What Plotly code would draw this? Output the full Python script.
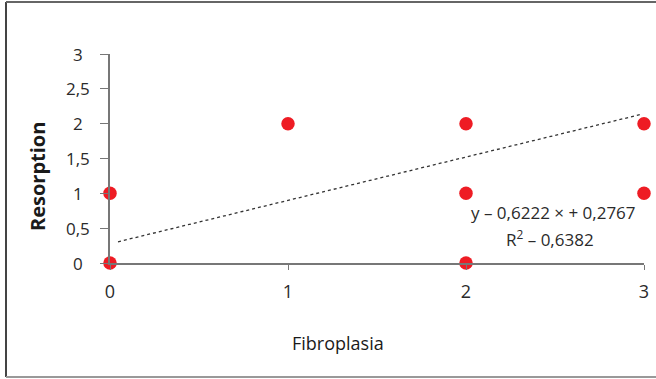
import plotly.graph_objects as go

fibroplasia = [0, 0, 1, 2, 2, 2, 3, 3]
resorption = [0, 1, 2, 2, 1, 0, 2, 1]
slope = 0.6222
intercept = 0.2767
r2 = 0.6382
trend_x = [0.045, 2.98]
trend_y = [slope * v + intercept for v in trend_x]
x_ticks = [0, 1, 2, 3]
y_ticks = [0, 0.5, 1, 1.5, 2, 2.5, 3]
y_ticktext = ["0", "0,5", "1", "1,5", "2", "2,5", "3"]

FONT = "Open Sans"
W, H = 656, 379
L, R, T, B = 110, 12, 54, 116
pw, ph = W - L - R, H - T - B

def px(x):
    return (x - L) / pw

def py(y):
    return (H - B - y) / ph

fig = go.Figure()
fig.add_trace(go.Scatter(x=trend_x, y=trend_y, mode="lines",
                         line=dict(color="#333333", width=1.3, dash="dot"),
                         hoverinfo="skip", showlegend=False))
fig.add_trace(go.Scatter(x=fibroplasia, y=resorption, mode="markers",
                         marker=dict(color="#ee1c24", size=13.5),
                         cliponaxis=False, showlegend=False))

annotations = [
    dict(text=t, xref="paper", yref="y", x=px(78), y=v, showarrow=False,
         font=dict(size=17, color="#2a2a2a"), xanchor="center", yanchor="middle")
    for v, t in zip(y_ticks, y_ticktext)
]
annotations += [
    dict(text="y – 0,6222 × + 0,2767", xref="paper", yref="paper",
         x=px(553), y=py(212), showarrow=False,
         font=dict(size=17, color="#2a2a2a"), xanchor="center", yanchor="middle"),
    dict(text="R<sup>2</sup> – 0,6382", xref="paper", yref="paper",
         x=px(550), y=py(238), showarrow=False,
         font=dict(size=17, color="#2a2a2a"), xanchor="center", yanchor="middle"),
    dict(text="Fibroplasia", xref="paper", yref="paper",
         x=px(338), y=py(343), showarrow=False,
         font=dict(size=18, color="#1a1a1a"), xanchor="center", yanchor="middle"),
    dict(text="<b>Resorption</b>", xref="paper", yref="paper",
         x=px(37), y=py(177), showarrow=False, textangle=-90,
         font=dict(size=20, color="#1a1a1a"), xanchor="center", yanchor="middle"),
]

fig.update_layout(
    template="none",
    width=W, height=H,
    margin=dict(l=L, r=R, t=T, b=B, autoexpand=False),
    paper_bgcolor="white", plot_bgcolor="white",
    font=dict(family=FONT, size=15, color="#2a2a2a"),
    xaxis=dict(range=[0, 3], tickvals=x_ticks, showgrid=False, zeroline=False,
               automargin=False,
               showline=True, linecolor="#777777", linewidth=1.5,
               ticks="outside", ticklen=5, tickcolor="#777777",
               ticklabelstandoff=7, tickfont=dict(size=18, color="#2a2a2a")),
    yaxis=dict(range=[0, 3], tickvals=y_ticks, showticklabels=False,
               showgrid=False, zeroline=False, automargin=False,
               showline=True, linecolor="#777777", linewidth=1.5,
               ticks="outside", ticklen=8, tickcolor="#777777"),
    annotations=annotations,
    shapes=[
        dict(type="line", xref="paper", yref="paper", x0=px(6), x1=px(6),
             y0=py(2), y1=py(377), line=dict(color="#444444", width=2)),
        dict(type="line", xref="paper", yref="paper", x0=px(6), x1=px(660),
             y0=py(2), y1=py(2), line=dict(color="#666666", width=2)),
        dict(type="line", xref="paper", yref="paper", x0=px(6), x1=px(660),
             y0=py(377), y1=py(377), line=dict(color="#999999", width=2)),
    ],
)

fig.write_html("out.html")
